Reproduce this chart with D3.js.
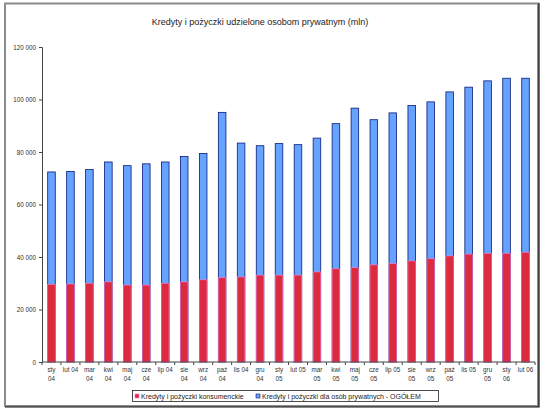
<!doctype html>
<html>
<head>
<meta charset="utf-8">
<title>Kredyty i pożyczki udzielone osobom prywatnym</title>
<style>
  body { margin: 0; background: #fff; }
  text { font-family: "Liberation Sans", Arial, sans-serif; }
</style>
</head>
<body>
<svg width="550" height="412"></svg>
<script src="https://d3js.org/d3.v7.min.js"></script>
<script>
var months = ["sty 04","lut 04","mar 04","kwi 04","maj 04","cze 04","lip 04","sie 04","wrz 04","paź 04","lis 04","gru 04",
              "sty 05","lut 05","mar 05","kwi 05","maj 05","cze 05","lip 05","sie 05","wrz 05","paź 05","lis 05","gru 05",
              "sty 06","lut 06"];

var consumer = [29600, 29700, 30000, 30500, 29300, 29300, 30000, 30500, 31300, 32100, 32400, 33100,
                33100, 33100, 34300, 35500, 35900, 37000, 37500, 38500, 39300, 40400, 41100, 41400,
                41400, 41800];

var total = [72400, 72600, 73300, 76200, 74800, 75500, 76200, 78300, 79400, 95100, 83400, 82400,
             83200, 82800, 85300, 90800, 96700, 92300, 94900, 97700, 99100, 102900, 104700, 107100,
             108100, 108100];

var yTicks = [0, 20000, 40000, 60000, 80000, 100000, 120000];

var seriesNames = ["Kredyty i pożyczki konsumenckie", "Kredyty i pożyczki dla osób prywatnych - OGÓŁEM"];
var title = "Kredyty i pożyczki udzielone osobom prywatnym (mln)";

var svg = d3.select("svg");

// chart area frame (grey border, dark shadow right/bottom)
svg.append("rect")
    .attr("x", 5).attr("y", 3.5)
    .attr("width", 533).attr("height", 402.5)
    .attr("fill", "#fff")
    .attr("stroke", "#8c8c8c")
    .attr("stroke-width", 2);
svg.append("path")
    .attr("d", "M539,3 V407 H5")
    .attr("fill", "none")
    .attr("stroke", "#111")
    .attr("stroke-width", 1.2);

var x = d3.scaleBand()
    .domain(months)
    .range([42, 535])
    .paddingInner(0.6)
    .paddingOuter(0.3);

var y = d3.scaleLinear()
    .domain([0, 120000])
    .range([362, 47]);

var fmt = function(v) { return d3.format(",")(v).replace(/,/g, " "); };

svg.append("text")
    .attr("x", 260).attr("y", 25)
    .attr("text-anchor", "middle")
    .attr("font-size", 9)
    .attr("fill", "#222")
    .text(title);

// y axis
var yAxis = svg.append("g")
    .attr("transform", "translate(42,0)")
    .call(d3.axisLeft(y).tickValues(yTicks).tickSize(3).tickPadding(3).tickFormat(fmt));
yAxis.select(".domain").attr("stroke", "#444");
yAxis.selectAll(".tick line").attr("stroke", "#444");
yAxis.selectAll("text").attr("font-size", 6.3).attr("fill", "#333")
    .attr("font-family", "'Liberation Sans', Arial, sans-serif");

// bars: total behind, consumer in front
svg.selectAll(".total")
    .data(total)
    .enter()
    .append("rect")
    .attr("class", "total")
    .attr("x", function(d, i) { return x(months[i]); })
    .attr("y", function(d) { return y(d); })
    .attr("width", x.bandwidth())
    .attr("height", function(d) { return y(0) - y(d); })
    .attr("fill", "#66a3ff")
    .attr("stroke", "#0a1a7a")
    .attr("stroke-width", 0.8);

svg.selectAll(".consumer")
    .data(consumer)
    .enter()
    .append("rect")
    .attr("class", "consumer")
    .attr("x", function(d, i) { return x(months[i]); })
    .attr("y", function(d) { return y(d); })
    .attr("width", x.bandwidth())
    .attr("height", function(d) { return y(0) - y(d); })
    .attr("fill", "#dc2a3e")
    .attr("stroke", "#ff7ad0")
    .attr("stroke-width", 0.6);

// x axis
var step = x.step();
var xg = svg.append("g");
xg.append("line")
    .attr("x1", 42).attr("x2", 535)
    .attr("y1", 362).attr("y2", 362)
    .attr("stroke", "#444");
xg.selectAll(".xtick")
    .data(d3.range(months.length + 1))
    .enter()
    .append("line")
    .attr("x1", function(i) { return 42 + i * step; })
    .attr("x2", function(i) { return 42 + i * step; })
    .attr("y1", 362).attr("y2", 365)
    .attr("stroke", "#444");

var labels = xg.selectAll(".xlabel")
    .data(months)
    .enter()
    .append("text")
    .attr("text-anchor", "middle")
    .attr("font-size", 6.3)
    .attr("fill", "#333")
    .attr("x", function(d) { return x(d) + x.bandwidth() / 2; })
    .attr("y", 372)
    .text(function(d) { return d; });

// wrap labels that are wider than the category slot, like Excel does
labels.each(function(d) {
  var t = d3.select(this);
  if (this.getComputedTextLength() > 16.2) {
    var parts = d.split(" ");
    var cx = t.attr("x");
    t.text(null);
    t.append("tspan").attr("x", cx).attr("dy", 0).text(parts[0]);
    t.append("tspan").attr("x", cx).attr("dy", 8.5).text(parts[1]);
  }
});

// legend
var lg = svg.append("g");
lg.append("rect")
    .attr("x", 132.5).attr("y", 390.5)
    .attr("width", 306).attr("height", 11)
    .attr("fill", "#fff")
    .attr("stroke", "#222")
    .attr("stroke-width", 0.8);
var legendColors = [["#dc2a3e", "#ff7ad0"], ["#66a3ff", "#0a1a7a"]];
var legendX = [135, 256];
seriesNames.forEach(function(name, i) {
  lg.append("rect")
      .attr("x", legendX[i]).attr("y", 394)
      .attr("width", 4).attr("height", 4)
      .attr("fill", legendColors[i][0])
      .attr("stroke", legendColors[i][1])
      .attr("stroke-width", 0.6);
  lg.append("text")
      .attr("x", legendX[i] + 6).attr("y", 398.8)
      .attr("font-size", 7)
      .attr("fill", "#222")
      .text(name);
});
</script>
</body>
</html>
